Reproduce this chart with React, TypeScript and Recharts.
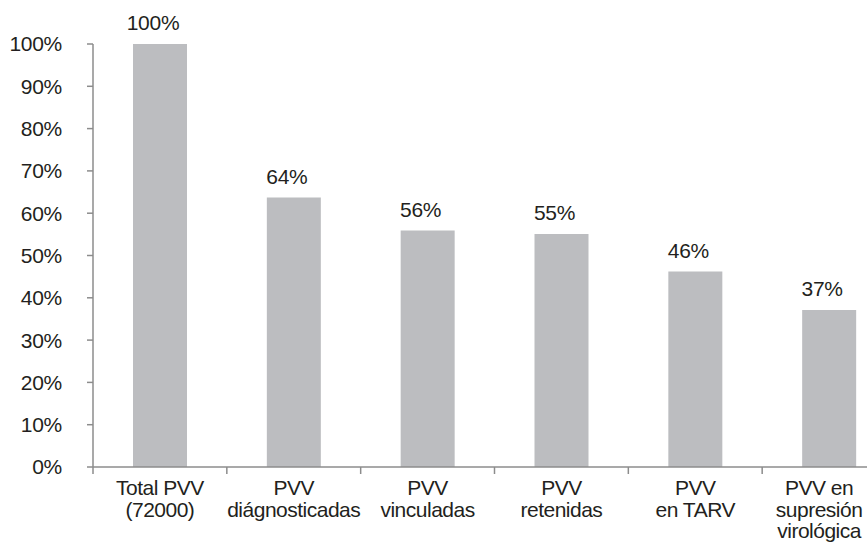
import React from 'react';
import { BarChart, Bar, XAxis, YAxis, LabelList } from 'recharts';

const categories = [
  ['Total PVV', '(72000)'],
  ['PVV', 'diágnosticadas'],
  ['PVV', 'vinculadas'],
  ['PVV', 'retenidas'],
  ['PVV', 'en TARV'],
  ['PVV en', 'supresión', 'virológica'],
];
const values = [100, 63.7, 55.9, 55.1, 46.2, 37.1];
const yTicks = [0, 10, 20, 30, 40, 50, 60, 70, 80, 90, 100];

const data = categories.map((c, i) => ({ name: c.join(' '), value: values[i] }));

const W = 910;
const H = 549;
const M = { top: 44, right: 14, left: 0, bottom: 0 };
const Y_W = 93;
const X_H = 82;
const BAND = (W - M.left - M.right - Y_W) / categories.length;

const TEXT = '#231F20';
const AXIS = '#8C8C8C';
const FONT = '"Liberation Sans", Arial, sans-serif';

const XTick = (props: any) => {
  const { x, y, payload, index } = props;
  const lines = categories[index] || [String(payload.value)];
  const half = BAND / 2;
  const tx = index === categories.length - 1 ? x - 10 : x;
  return (
    <g>
      <line x1={x - half} x2={x - half} y1={y - 8} y2={y - 1} stroke={AXIS} strokeWidth={1.5} />
      <text x={tx} y={y} textAnchor="middle" fill={TEXT} fontSize={21} fontFamily={FONT} letterSpacing={-0.5}>
        {lines.map((l: string, i: number) => (
          <tspan key={i} x={tx} y={y + 20 + i * 21.5}>{l}</tspan>
        ))}
      </text>
    </g>
  );
};

const TopLabel = (props: any) => {
  const { x, y, width, value } = props;
  return (
    <text x={x + width / 2 - 7} y={y - 14} textAnchor="middle" fill={TEXT} fontSize={21} fontFamily={FONT} letterSpacing={-0.3}>
      {Math.round(value)}%
    </text>
  );
};

export default function App() {
  return (
    <div style={{ position: 'fixed', left: 0, top: 0, width: 867, height: 549, overflow: 'hidden', background: '#fff' }}>
      <BarChart width={W} height={H} data={data} margin={M} barCategoryGap={40}>
        <XAxis
          dataKey="name"
          height={X_H}
          interval={0}
          tickLine={false}
          axisLine={{ stroke: AXIS, strokeWidth: 1.5 }}
          tick={<XTick />}
        />
        <YAxis
          width={Y_W}
          domain={[0, 100]}
          ticks={yTicks}
          interval={0}
          tickFormatter={(v: number) => `${v}%`}
          tickSize={6}
          tickMargin={25}
          axisLine={{ stroke: AXIS, strokeWidth: 1.5 }}
          tickLine={{ stroke: AXIS, strokeWidth: 1.5 }}
          tick={{ fill: TEXT, fontSize: 21, fontFamily: FONT, letterSpacing: -0.3 } as any}
        />
        <Bar dataKey="value" fill="#BCBDC0" isAnimationActive={false}>
          <LabelList dataKey="value" content={<TopLabel />} />
        </Bar>
      </BarChart>
    </div>
  );
}
